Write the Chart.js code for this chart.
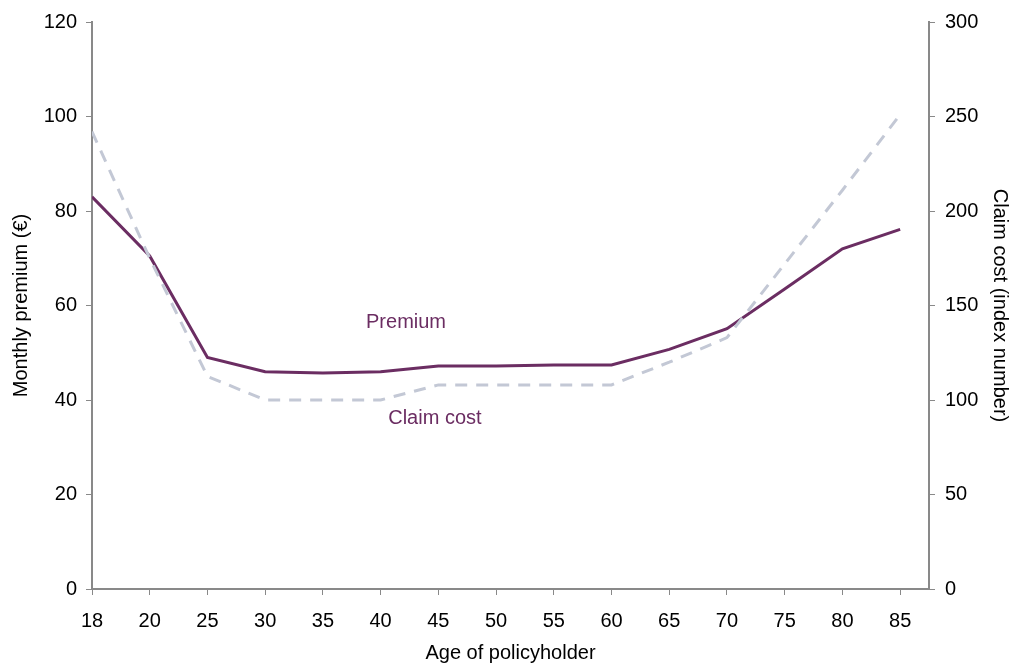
<!DOCTYPE html>
<html>
<head>
<meta charset="utf-8">
<script src="https://cdn.jsdelivr.net/npm/chart.js@4.4.1/dist/chart.umd.min.js"></script>
<style>
  html, body { margin: 0; padding: 0; background: #ffffff; }
  #wrap { width: 1016px; height: 663px; position: relative; }
</style>
</head>
<body>
<div id="wrap"><canvas id="c" width="1016" height="663"></canvas></div>
<script>
// ---- Data ----
const ages = ['18', '20', '25', '30', '35', '40', '45', '50', '55', '60', '65', '70', '75', '80', '85'];
const premium = [83, 70.5, 49, 46, 45.7, 46, 47.2, 47.2, 47.4, 47.4, 50.7, 55.1, 63.5, 72, 76.1];
const claimCost = [242, 175, 112.5, 100, 100, 100, 108, 108, 108, 108, 120, 133, 172, 211, 251];
const leftTicks = [0, 20, 40, 60, 80, 100, 120];
const rightTicks = [0, 50, 100, 150, 200, 250, 300];

const PURPLE = '#6b2d62';
const DASH = '#c3c8d5';
const AXIS = '#898989';
const FONT = "'Liberation Sans', Arial, sans-serif";

const toPoints = arr => arr.map((v, i) => ({ x: i, y: v }));

const labelPlugin = {
  id: 'seriesLabels',
  afterDatasetsDraw(chart) {
    const { ctx, scales } = chart;
    const items = [
      { text: 'Premium', x: 5.44, y: 56.3 },
      { text: 'Claim cost', x: 5.94, y: 36 }
    ];
    ctx.save();
    ctx.fillStyle = PURPLE;
    ctx.font = '20px ' + FONT;
    ctx.textAlign = 'center';
    ctx.textBaseline = 'middle';
    items.forEach(it => {
      ctx.fillText(it.text, scales.x.getPixelForValue(it.x), scales.y.getPixelForValue(it.y));
    });
    ctx.restore();
  }
};

new Chart(document.getElementById('c'), {
  type: 'line',
  data: {
    datasets: [
      {
        label: 'Claim cost',
        data: toPoints(claimCost),
        yAxisID: 'y1',
        borderColor: DASH,
        borderWidth: 3,
        borderDash: [12, 9],
        pointRadius: 0,
        tension: 0,
        fill: false
      },
      {
        label: 'Premium',
        data: toPoints(premium),
        yAxisID: 'y',
        borderColor: PURPLE,
        borderWidth: 3,
        pointRadius: 0,
        tension: 0,
        fill: false
      }
    ]
  },
  options: {
    responsive: false,
    animation: false,
    devicePixelRatio: 1,
    layout: { padding: { top: 20, left: 0, right: 0, bottom: 0 } },
    plugins: { legend: { display: false }, tooltip: { enabled: false } },
    scales: {
      x: {
        type: 'linear',
        min: 0,
        max: 14.5,
        offset: false,
        afterFit(s) { s.height = 74; },
        afterBuildTicks(s) { s.ticks = ages.map((a, i) => ({ value: i })); },
        ticks: {
          autoSkip: false,
          maxRotation: 0,
          padding: 14,
          color: '#000',
          font: { family: FONT, size: 20 },
          callback: v => ages[v]
        },
        grid: { drawOnChartArea: false, drawTicks: true, tickLength: 6, color: AXIS, tickWidth: 1 },
        border: { display: true, color: AXIS, width: 2 },
        title: {
          display: true,
          text: 'Age of policyholder',
          color: '#000',
          font: { family: FONT, size: 20, lineHeight: 1.0 },
          padding: { top: 0, bottom: 0 }
        }
      },
      y: {
        position: 'left',
        min: 0,
        max: 120,
        afterFit(s) { s.width = 92; },
        afterBuildTicks(s) { s.ticks = leftTicks.map(v => ({ value: v })); },
        ticks: {
          padding: 9,
          color: '#000',
          font: { family: FONT, size: 20 }
        },
        grid: { drawOnChartArea: false, drawTicks: true, tickLength: 6, color: AXIS },
        border: { display: true, color: AXIS, width: 2 },
        title: {
          display: true,
          text: 'Monthly premium (€)',
          color: '#000',
          font: { family: FONT, size: 20, lineHeight: 1.0 },
          padding: { top: 11, bottom: 0 }
        }
      },
      y1: {
        position: 'right',
        min: 0,
        max: 300,
        afterFit(s) { s.width = 87; },
        afterBuildTicks(s) { s.ticks = rightTicks.map(v => ({ value: v })); },
        ticks: {
          padding: 10,
          color: '#000',
          font: { family: FONT, size: 20 }
        },
        grid: { drawOnChartArea: false, drawTicks: true, tickLength: 6, color: AXIS },
        border: { display: true, color: AXIS, width: 2 },
        title: {
          display: true,
          text: 'Claim cost (index number)',
          color: '#000',
          font: { family: FONT, size: 20, lineHeight: 1.0 },
          padding: { top: 6, bottom: 0 }
        }
      }
    }
  },
  plugins: [labelPlugin]
});
</script>
</body>
</html>
